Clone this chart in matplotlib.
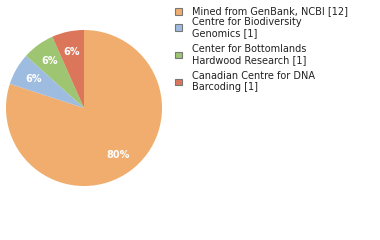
import matplotlib
matplotlib.use("Agg")
import matplotlib.pyplot as plt
from matplotlib.patches import Rectangle

labels = ["Mined from GenBank, NCBI [12]",
          "Centre for Biodiversity\nGenomics [1]",
          "Center for Bottomlands\nHardwood Research [1]",
          "Canadian Centre for DNA\nBarcoding [1]"]
counts = [12, 1, 1, 1]
colors = ["#f0ad6e", "#9dbce0", "#9ec572", "#dc765a"]

fig = plt.figure(figsize=(3.8, 2.4), dpi=100)
ax = fig.add_axes([6 / 380, 54 / 240, 156 / 380, 156 / 240])
wedges, texts, autotexts = ax.pie(
    counts, colors=colors, startangle=90, counterclock=False,
    autopct=lambda p: f"{int(p)}%", pctdistance=0.74,
    textprops=dict(color="white", fontsize=7, fontweight="bold"))
ax.set_xlim(-1, 1)
ax.set_ylim(-1, 1)
ax.set_aspect("equal")
ax.axis("off")

# legend drawn by hand: vertical centres (px from top) of each entry
legend_y = [11.5, 27.5, 54.5, 81.5]
for lab, col, yc in zip(labels, colors, legend_y):
    fig.patches.append(Rectangle((175 / 380, 1 - (yc + 3.5) / 240), 6.5 / 380, 6.5 / 240,
                                 transform=fig.transFigure, facecolor=col,
                                 edgecolor="#777777", linewidth=0.8))
    fig.text(192 / 380, 1 - yc / 240, lab, fontsize=7, color="#222222",
             va="center", ha="left", linespacing=1.15)

fig.savefig("out.png", dpi=100)
